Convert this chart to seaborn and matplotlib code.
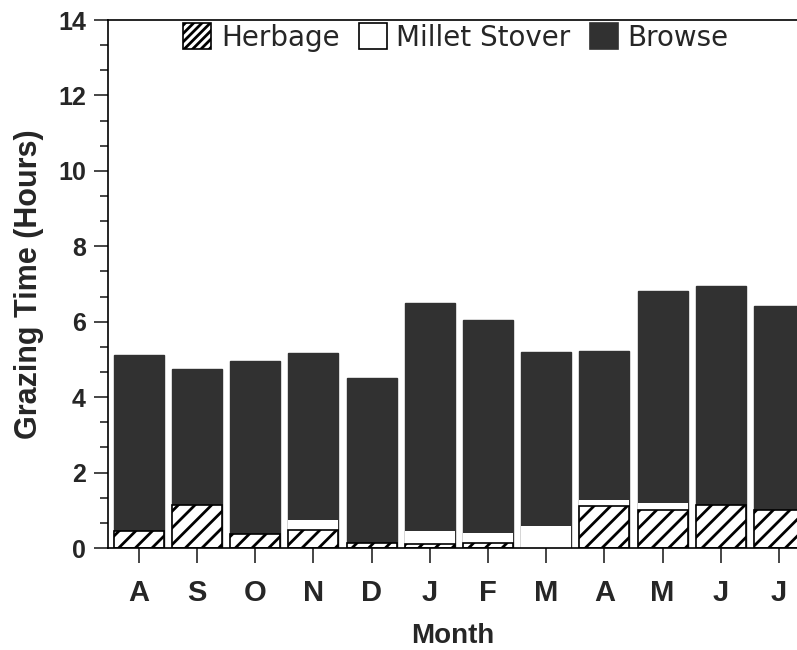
import numpy as np
import pandas as pd
import matplotlib
matplotlib.use("Agg")
import matplotlib.pyplot as plt
from matplotlib.patches import Patch
from matplotlib.ticker import MultipleLocator
import seaborn as sns

# grazing time by month (hours)
months = ["A", "S", "O", "N", "D", "J", "F", "M", "A", "M", "J", "J"]
herbage = [0.45, 1.14, 0.36, 0.48, 0.13, 0.10, 0.13, 0.0, 1.11, 1.00, 1.14, 1.00]
millet = [0.0, 0.0, 0.0, 0.27, 0.0, 0.36, 0.28, 0.59, 0.16, 0.18, 0.0, 0.0]
total = [5.12, 4.75, 4.96, 5.17, 4.50, 6.50, 6.05, 5.20, 5.22, 6.82, 6.95, 6.42]

DARK = "#313131"

sns.set_theme(style="white")
plt.rcParams["font.family"] = ["Liberation Sans", "DejaVu Sans"]
plt.rcParams["hatch.linewidth"] = 2.0
plt.rcParams["hatch.color"] = "black"

df = pd.DataFrame({
    "pos": range(len(months)),
    "month": months,
    "herbage": herbage,
    "herb_millet": np.array(herbage) + np.array(millet),
    "total": total,
})

fig = plt.figure(figsize=(7.97, 6.5), dpi=100)
ax = fig.add_axes([108 / 797, 102 / 650, 1 - 108 / 797, 528 / 650])

# stacked bars drawn as cumulative layers, back to front
sns.barplot(data=df, x="pos", y="total", color=DARK, saturation=1,
            width=0.86, edgecolor=DARK, linewidth=1, ax=ax)
sns.barplot(data=df, x="pos", y="herb_millet", color="white", saturation=1,
            width=0.86, edgecolor="none", linewidth=0, ax=ax)
n0 = len(ax.patches)
sns.barplot(data=df, x="pos", y="herbage", color="white", saturation=1,
            width=0.86, edgecolor="black", linewidth=1.2, ax=ax)
for p in ax.patches[n0:]:
    if p.get_height() > 0:
        p.set_hatch("//")
    else:
        p.set_visible(False)

ax.set_xlim(-0.53, 11.31)
ax.set_ylim(0, 14)
ax.set_xticks(range(len(months)))
ax.set_xticklabels(months)
ax.yaxis.set_major_locator(MultipleLocator(2))
ax.yaxis.set_minor_locator(MultipleLocator(2 / 3))

for s in ["left", "top", "bottom"]:
    ax.spines[s].set_color("black")
    ax.spines[s].set_linewidth(1.2)
ax.spines["right"].set_visible(False)

ax.tick_params(axis="x", which="major", direction="out", length=11, width=1.2,
               pad=11, labelsize=21, bottom=True)
ax.tick_params(axis="y", which="major", direction="out", length=10, width=1.2,
               pad=6, labelsize=18, left=True)
ax.tick_params(axis="y", which="minor", direction="out", length=6, width=1.2, left=True)
for lab in ax.get_xticklabels() + ax.get_yticklabels():
    lab.set_fontweight("bold")

ax.set_xlabel("Month", fontsize=20, fontweight="bold", labelpad=12)
ax.set_ylabel("Grazing Time (Hours)", fontsize=22, fontweight="bold", labelpad=10)

handles = [
    Patch(facecolor="white", edgecolor="black", hatch="////", linewidth=1.2),
    Patch(facecolor="white", edgecolor="black", linewidth=1.2),
    Patch(facecolor=DARK, edgecolor=DARK, linewidth=1.2),
]
ax.legend(handles, ["Herbage", "Millet Stover", "Browse"], loc="upper center",
          ncol=3, frameon=False, prop={"family": "DejaVu Sans", "size": 20},
          handlelength=1.0, handleheight=1.1, handletextpad=0.35,
          columnspacing=0.7, borderaxespad=0.0, borderpad=0.1,
          bbox_to_anchor=(0.505, 1.0))

fig.savefig("out.png", dpi=100)
